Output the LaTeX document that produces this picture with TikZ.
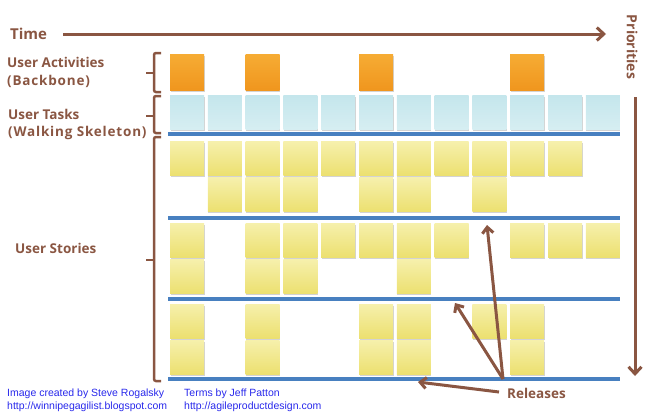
\documentclass[tikz,border=0pt]{standalone}
\usepackage{fontspec}
\setmainfont{Liberation Sans}
\newfontfamily\labelfont{Open Sans}
\newfontfamily\sublabelfont[LetterSpace=6]{Open Sans}
\usetikzlibrary{arrows.meta,shadows}

\definecolor{mapbrown}{RGB}{138,86,66}
\definecolor{releaseblue}{RGB}{72,128,192}
\definecolor{credit}{RGB}{40,40,235}
\definecolor{orangetop}{RGB}{246,172,52}
\definecolor{orangebot}{RGB}{240,150,30}
\definecolor{tasktop}{RGB}{196,230,236}
\definecolor{taskbot}{RGB}{214,238,242}
\definecolor{storytop}{RGB}{246,240,172}
\definecolor{storybot}{RGB}{236,224,112}

\begin{document}
\begin{tikzpicture}[x=1pt,y=-1pt,
note/.style={minimum width=34pt,minimum height=34pt,inner sep=0pt,
  drop shadow={shadow xshift=0.5pt,shadow yshift=-1.5pt,opacity=0.35}},
activity/.style={note,minimum height=36pt,top color=orangetop,bottom color=orangebot},
task/.style={note,top color=tasktop,bottom color=taskbot},
story/.style={note,top color=storytop,bottom color=storybot},
rowlabel/.style={anchor=west,inner sep=0pt,text=mapbrown,font=\labelfont\bfseries\fontsize{13.5}{15}\selectfont},
sublabel/.style={rowlabel,font=\sublabelfont\bfseries\fontsize{13.5}{15}\selectfont},
creditnote/.style={anchor=west,inner sep=0pt,text=credit,font=\fontsize{10.5}{12}\selectfont},
release/.style={line width=4pt,releaseblue},
brace/.style={mapbrown,line width=2.5pt,rounded corners=2pt},
timearrow/.style={mapbrown,line width=3pt,-{Straight Barb[length=7pt,width=13pt]}},
relarrow/.style={mapbrown,line width=3pt,-{Straight Barb[length=6pt,width=11pt]}}]

\useasboundingbox (0,0) rectangle (652,416);

% axes
\node (time) at (10,34) [rowlabel,font=\labelfont\bfseries\fontsize{15}{17}\selectfont] {Time};
\coordinate (tstart) at (63,34);
\coordinate (tend) at (606,34);
\draw [timearrow] (tstart) -- (tend);

\node (prio) at (632,47) [rowlabel,anchor=center,rotate=-90,font=\labelfont\bfseries\fontsize{14}{16}\selectfont] {Priorities};
\coordinate (pstart) at (635,97);
\coordinate (pend) at (635,376);
\draw [timearrow] (pstart) -- (pend);

% row labels and braces
\node (act) at (7,62) [rowlabel] {User Activities};
\node (bone) at (7,81) [sublabel] {(Backbone)};
\node (tsk) at (8,114) [rowlabel] {User Tasks};
\node (skel) at (8,133) [sublabel] {(Walking Skeleton)};
\node (sto) at (15,248) [rowlabel] {User Stories};

\foreach \top/\mid/\bot in {53/73/92, 96/116/133, 137/260/381} {
  \draw [brace] (161,\top) -| (154,\bot) -- (161,\bot);
  \draw [brace] (154,\mid) -- (146,\mid);
}

% backbone and walking skeleton
\foreach \c in {1,3,6,10}
  \node (a\c) at ({187+37.8*(\c-1)},72) [activity] {};
\foreach \c in {1,...,12}
  \node (t\c) at ({187+37.8*(\c-1)},112) [task] {};

% user stories
\foreach \r/\k/\y/\cols in {1/1/158.5/{1,2,3,4,5,6,7,8,9,10,11}, 1/2/194.5/{2,3,4,6,7,9},
    2/1/240/{1,3,4,5,6,7,8,10,11,12}, 2/2/276.5/{1,3,4,7},
    3/1/321/{1,3,6,7,9,10}, 3/2/357/{1,3,6,7,10}}
  \foreach \c in \cols
    \node (s\r-\k-\c) at ({187+37.8*(\c-1)},\y) [story] {};

% releases
\foreach \i/\y in {1/134, 2/218, 3/299, 4/379} {
  \coordinate (r\i w) at (168,\y);
  \coordinate (r\i e) at (620,\y);
  \draw [release] (r\i w) -- (r\i e);
}

\node (rel) at (507,393) [rowlabel] {Releases};
\coordinate (relroot) at (503,379);
\coordinate (relleft) at (499,392);
\coordinate (r2tip) at (487,225);
\coordinate (r3tip) at (455,303);
\coordinate (r4tip) at (418,382);
\draw [relarrow] (relroot) -- (r2tip);
\draw [relarrow] (relroot) -- (r3tip);
\draw [relarrow] (relleft) -- (r4tip);

% credits
\node (by) at (7,394) [creditnote] {Image created by Steve Rogalsky};
\node (byurl) at (7,407) [creditnote] {http://winnipegagilist.blogspot.com};
\node (terms) at (184,394) [creditnote] {Terms by Jeff Patton};
\node (termsurl) at (184,407) [creditnote] {http://agileproductdesign.com};

\end{tikzpicture}
\end{document}
